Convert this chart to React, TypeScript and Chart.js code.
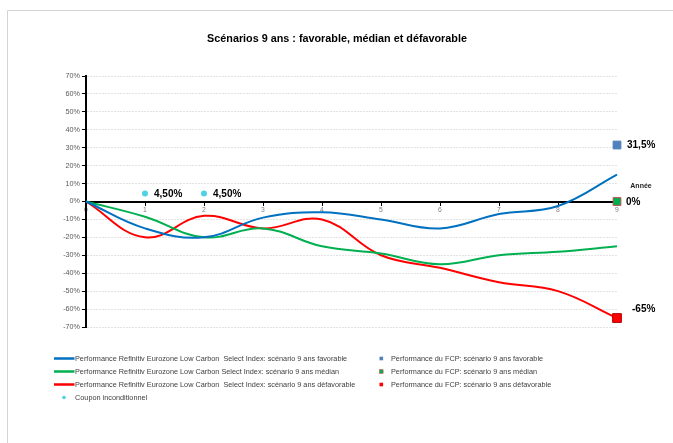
import { useEffect, useRef } from "react";
import { Chart, registerables } from "chart.js";

Chart.register(...registerables);

const FONT = "'Liberation Sans', Arial, Helvetica, sans-serif";

// ---- Data ----
const years = [0, 1, 2, 3, 4, 5, 6, 7, 8, 9];
const favorable = [0, -15, -20, -9, -6, -10, -15, -7, -2.5, 15];
const median = [0, -8.5, -20, -15, -25, -29, -35, -30, -28, -25];
const defavorable = [0, -20, -8, -15, -10, -30, -37, -45, -50, -65];

const couponYears = [1, 2];
const couponValues = [4.5, 4.5];
const couponLabels = ["4,50%", "4,50%"];

const fcpYear = 9;
const fcpValues = [31.5, 0, -65];
const fcpLabels = ["31,5%", "0%", "-65%"];

const yMin = -70;
const yMax = 70;
const yStep = 10;

const titleText = "Scénarios 9 ans : favorable, médian et défavorable";
const xAxisLabel = "Année";

const indexLabels = [
  "Performance Refinitiv Eurozone Low Carbon  Select Index: scénario 9 ans favorable",
  "Performance Refinitiv Eurozone Low Carbon Select Index: scénario 9 ans médian",
  "Performance Refinitiv Eurozone Low Carbon  Select Index: scénario 9 ans défavorable",
];
const fcpLegendLabels = [
  "Performance du FCP: scénario 9 ans favorable",
  "Performance du FCP: scénario 9 ans médian",
  "Performance du FCP: scénario 9 ans défavorable",
];
const couponLegendLabel = "Coupon inconditionnel";

// ---- Styles ----
const lineColors = ["#0070C0", "#00B050", "#FF0000"];
const fcpFill = ["#4F81BD", "#00B050", "#FF0000"];
const fcpBorder = ["#4F81BD", "#C0504D", "#B00000"];
const fcpRadius = [5.5, 5.5, 6.2];
const couponColor = "#4DD2E6";

const decorPlugin = {
  id: "decor",
  afterDatasetsDraw(chart: any) {
    const ctx = chart.ctx as CanvasRenderingContext2D;
    const xs = chart.scales.x;
    const ys = chart.scales.y;
    ctx.save();
    ctx.fillStyle = "#000";
    ctx.textAlign = "left";
    ctx.textBaseline = "middle";
    ctx.font = `bold 10px ${FONT}`;
    couponYears.forEach((yr, i) => {
      ctx.fillText(
        couponLabels[i],
        xs.getPixelForValue(yr) + 9,
        ys.getPixelForValue(couponValues[i]) + 0.5
      );
    });
    const offs = [
      { dx: 10, dy: 0.5 },
      { dx: 9, dy: 0.5 },
      { dx: 15, dy: -8.5 },
    ];
    fcpValues.forEach((v, i) => {
      ctx.font = `bold 10px ${FONT}`;
      ctx.fillText(
        fcpLabels[i],
        xs.getPixelForValue(fcpYear) + offs[i].dx,
        ys.getPixelForValue(v) + offs[i].dy
      );
    });
    // x-axis title
    ctx.font = `bold 7px ${FONT}`;
    ctx.textAlign = "center";
    ctx.fillStyle = "#222";
    ctx.fillText(xAxisLabel, xs.right + 24, ys.getPixelForValue(0) - 15);
    ctx.restore();
  },
  afterDraw(chart: any) {
    const ctx = chart.ctx as CanvasRenderingContext2D;
    ctx.save();
    // outer border
    ctx.strokeStyle = "#D4D4D4";
    ctx.lineWidth = 1;
    ctx.beginPath();
    ctx.moveTo(7.5, 443);
    ctx.lineTo(7.5, 10.5);
    ctx.lineTo(673, 10.5);
    ctx.stroke();

    // title
    ctx.fillStyle = "#000";
    ctx.font = `bold 10.8px ${FONT}`;
    ctx.textAlign = "center";
    ctx.textBaseline = "middle";
    ctx.fillText(titleText, 337, 39);

    // legend
    const rows = [358.5, 371.5, 384.5, 397.5];
    ctx.font = `7.3px ${FONT}`;
    ctx.textAlign = "left";
    indexLabels.forEach((lab, i) => {
      ctx.strokeStyle = lineColors[i];
      ctx.lineWidth = 2.5;
      ctx.beginPath();
      ctx.moveTo(54, rows[i]);
      ctx.lineTo(74.5, rows[i]);
      ctx.stroke();
      ctx.fillStyle = "#404040";
      ctx.fillText(lab, 75, rows[i] + 0.5);
    });
    ctx.fillStyle = couponColor;
    ctx.beginPath();
    ctx.arc(64, rows[3], 1.8, 0, Math.PI * 2);
    ctx.fill();
    ctx.fillStyle = "#404040";
    ctx.fillText(couponLegendLabel, 75, rows[3] + 0.5);

    fcpLegendLabels.forEach((lab, i) => {
      ctx.fillStyle = fcpFill[i];
      ctx.fillRect(379.5, rows[i] - 1.8, 3.6, 3.6);
      if (i === 1) {
        ctx.strokeStyle = fcpBorder[i];
        ctx.lineWidth = 0.6;
        ctx.strokeRect(379.5, rows[i] - 1.8, 3.6, 3.6);
      }
      ctx.fillStyle = "#404040";
      ctx.fillText(lab, 391, rows[i] + 0.5);
    });
    ctx.restore();
  },
};

export default function App() {
  const ref = useRef<HTMLCanvasElement | null>(null);

  useEffect(() => {
    if (!ref.current) return;
    const toXY = (arr: number[]) => years.map((x, i) => ({ x, y: arr[i] }));

    const datasets: any[] = [];
    datasets.push({
      type: "scatter",
      label: couponLegendLabel,
      data: couponYears.map((x, i) => ({ x, y: couponValues[i] })),
      pointStyle: "circle",
      pointRadius: 3,
      backgroundColor: couponColor,
      borderColor: couponColor,
      borderWidth: 0,
      clip: false,
    });
    fcpValues.forEach((v, i) => {
      datasets.push({
        type: "scatter",
        label: fcpLegendLabels[i],
        data: [{ x: fcpYear, y: v }],
        pointStyle: "rect",
        pointRadius: fcpRadius[i],
        backgroundColor: fcpFill[i],
        borderColor: fcpBorder[i],
        borderWidth: 1,
        clip: false,
      });
    });
    [favorable, median, defavorable].forEach((arr, i) => {
      datasets.push({
        type: "line",
        label: indexLabels[i],
        data: toXY(arr),
        borderColor: lineColors[i],
        backgroundColor: lineColors[i],
        borderWidth: 2,
        pointRadius: 0,
        tension: 0.4,
        fill: false,
        clip: false,
      });
    });

    const chart = new Chart(ref.current, {
      type: "line",
      data: { datasets },
      plugins: [decorPlugin],
      options: {
        animation: false,
        responsive: false,
        devicePixelRatio: window.devicePixelRatio || 1,
        layout: { padding: { left: 36, right: 56, top: 76, bottom: 116 } },
        plugins: {
          legend: { display: false },
          title: { display: false },
          tooltip: { enabled: false },
        },
        scales: {
          x: {
            type: "linear",
            min: 0,
            max: 9,
            position: { y: 0 } as any,
            ticks: {
              stepSize: 1,
              autoSkip: false,
              padding: 2,
              color: "#7F7F7F",
              font: { family: FONT, size: 6.8 },
              maxRotation: 0,
            },
            grid: {
              drawOnChartArea: false,
              drawTicks: true,
              tickLength: 3,
              tickColor: "#000",
              tickWidth: 1,
            },
            border: { display: true, color: "#000", width: 2 },
          },
          y: {
            type: "linear",
            min: yMin,
            max: yMax,
            position: "left",
            afterFit: (s: any) => {
              s.width = 50;
            },
            ticks: {
              stepSize: yStep,
              padding: 2,
              color: "#595959",
              font: { family: FONT, size: 7.2 },
              callback: (v: any) => `${v}%`,
            },
            grid: {
              color: "#E3E3E3",
              lineWidth: 1,
              drawTicks: true,
              tickLength: 4,
              tickColor: "#000",
              tickWidth: 1,
              tickBorderDash: [],
            },
            border: { display: true, color: "#000", width: 2, dash: [2, 1] },
          },
        },
      } as any,
    });
    return () => chart.destroy();
  }, []);

  return (
    <div style={{ position: "fixed", left: 0, top: 0, width: 673, height: 443, background: "#fff" }}>
      <canvas ref={ref} width={673} height={443} style={{ width: 673, height: 443, display: "block" }} />
    </div>
  );
}
